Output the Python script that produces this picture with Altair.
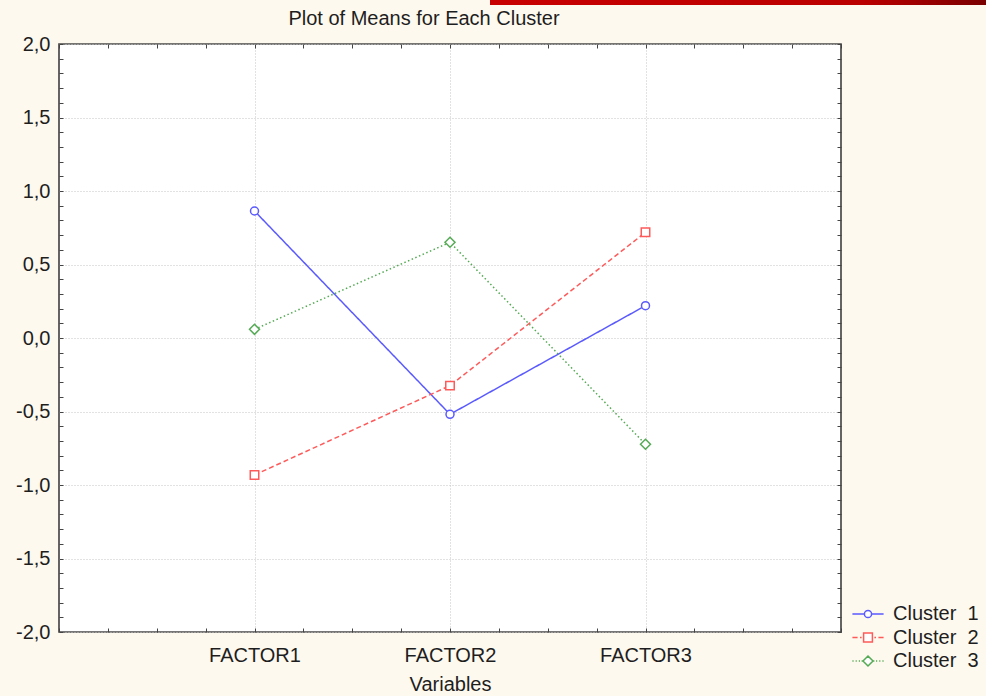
import json
import altair as alt
import pandas as pd

# ---------------- data ----------------
factors = ["FACTOR1", "FACTOR2", "FACTOR3"]
series = ["Cluster\u00a0\u00a01", "Cluster\u00a0\u00a02", "Cluster\u00a0\u00a03"]
cluster1 = [0.864, -0.519, 0.220]
cluster2 = [-0.932, -0.324, 0.719]
cluster3 = [0.059, 0.651, -0.723]
y_major = [-2.0, -1.5, -1.0, -0.5, 0.0, 0.5, 1.0, 1.5, 2.0]
y_minor = [round(-2.0 + 0.1 * i, 1) for i in range(41)]
x_minor = [0.25 * i for i in range(17)]

# ---------------- styles ----------------
colors = ["#5a5aff", "#ff5a5a", "#55aa55"]
dashes = [[1, 0], [5, 3], [1.5, 2.5]]
marker_shapes = ["circle", "square", "diamond"]
marker_sizes = [64, 72, 100]
legend_paths = [
    "M-3.9,0L-0.9,0M0.9,0L3.9,0M-0.9,0A0.9,0.9,0,1,1,0.9,0A0.9,0.9,0,1,1,-0.9,0Z",
    "M-3.9,0L-2.6,0M-2.0,0L-1.6,0M-1.1,-1.1L1.1,-1.1L1.1,1.1L-1.1,1.1ZM1.6,0L2.0,0M2.6,0L3.9,0",
    "M-3.9,0L-3.6,0M-3.1,0L-2.8,0M-2.3,0L-2.0,0M-1.6,0L-1.35,0M0,-1.25L1.25,0L0,1.25L-1.25,0Z"
    "M1.35,0L1.6,0M2.0,0L2.3,0M2.8,0L3.1,0M3.6,0L3.9,0",
]

rows = []
for s, vals in zip(series, [cluster1, cluster2, cluster3]):
    for i, (f, v) in enumerate(zip(factors, vals)):
        rows.append({"series": s, "factor": f, "pos": i + 1, "value": v})
df = pd.DataFrame(rows)

W, H = 782, 588
FONT = "Liberation Sans"
TXT = "#1e1e1e"
TICK = "#444444"
GRID = "#c4c4c4"

xs = alt.Scale(domain=[0, 4], nice=False, zero=False)
ys = alt.Scale(domain=[-2, 2], nice=False, zero=False)

base = alt.Chart(df)

x_label_expr = f"{json.dumps(factors)}[datum.value - 1]"
y_label_expr = "replace(replace(format(datum.value, '.1f'), '.', ','), '\u2212', '-')"

main_x_axis = alt.Axis(
    orient="bottom", values=[1, 2, 3], labelExpr=x_label_expr,
    title="Variables", grid=True, gridColor=GRID, gridDash=[1, 2], gridWidth=1,
    ticks=False, domain=False, labelFont=FONT, labelFontSize=20, labelColor=TXT,
    labelPadding=13, titleFont=FONT, titleFontSize=20, titleFontWeight="normal",
    titleColor=TXT, titlePadding=9)
main_y_axis = alt.Axis(
    orient="left", values=y_major, labelExpr=y_label_expr, title=None,
    grid=True, gridColor=GRID, gridDash=[1, 2], gridWidth=1,
    ticks=False, domain=False, labelFont=FONT, labelFontSize=20,
    labelColor=TXT, labelPadding=9)

tick_axis = dict(labels=False, grid=False, domain=False, title=None,
                 tickColor=TICK, tickSize=4, tickWidth=1)

line_axes = [(main_x_axis, main_y_axis), (None, None), (None, None)]
point_axes = [
    (alt.Axis(orient="top", offset=-H, values=x_minor, **tick_axis),
     alt.Axis(orient="right", offset=-W, values=y_minor, **tick_axis)),
    (alt.Axis(orient="bottom", offset=-H, values=x_minor, **tick_axis),
     alt.Axis(orient="left", offset=-W, values=y_minor, **tick_axis)),
    (None, None),
]

layers = []
for s, col, dash, (ax_x, ax_y) in zip(series, colors, dashes, line_axes):
    layers.append(
        base.transform_filter(alt.datum.series == s)
        .mark_line(color=col, strokeDash=dash, strokeWidth=1.5)
        .encode(
            x=alt.X("pos:Q", scale=xs, axis=ax_x),
            y=alt.Y("value:Q", scale=ys, axis=ax_y),
        )
    )
for s, col, shp, sz, (ax_x, ax_y) in zip(series, colors, marker_shapes, marker_sizes, point_axes):
    layers.append(
        base.transform_filter(alt.datum.series == s)
        .mark_point(shape=shp, size=sz, filled=True, fill="white", stroke=col,
                    strokeWidth=1.5, opacity=1)
        .encode(
            x=alt.X("pos:Q", scale=xs, axis=ax_x),
            y=alt.Y("value:Q", scale=ys, axis=ax_y),
        )
    )

leg = dict(title=None, orient="none", legendX=799, legendY=560, padding=0,
           symbolSize=64, symbolStrokeWidth=1.5, symbolOpacity=1,
           symbolFillColor="white", labelFont=FONT, labelFontSize=20,
           labelColor=TXT, labelOffset=15, rowPadding=3.5, labelLimit=300)

legend_layer = base.mark_point(filled=True, fill="white", opacity=0).encode(
    x=alt.X("pos:Q", scale=xs, axis=None),
    y=alt.Y("value:Q", scale=ys, axis=None),
    stroke=alt.Stroke("series:N", scale=alt.Scale(domain=series, range=colors),
                      legend=alt.Legend(**leg)),
    shape=alt.Shape("series:N", scale=alt.Scale(domain=series, range=legend_paths),
                    legend=alt.Legend(**leg)),
)
layers.append(legend_layer)

bar = alt.Chart(alt.Data(values=[{}])).mark_rect(
    color=alt.LinearGradient(
        gradient="linear", x1=0, x2=1, y1=0, y2=0,
        stops=[alt.GradientStop(color="#c80000", offset=0),
               alt.GradientStop(color="#bb0000", offset=0.75),
               alt.GradientStop(color="#7a0000", offset=1)])
).encode(x=alt.value(431), x2=alt.value(927), y=alt.value(-44), y2=alt.value(-39))
layers.append(bar)

chart = (
    alt.layer(*layers)
    .resolve_axis(x="independent", y="independent")
    .properties(
        width=W, height=H,
        autosize=alt.AutoSizeParams(type="none"),
        padding={"left": 59, "top": 44, "right": 986 - 59 - W, "bottom": 696 - 44 - H},
        title=alt.TitleParams(
            "Plot of Means for Each Cluster", font=FONT, fontSize=20,
            fontWeight="normal", color=TXT, anchor="middle", frame="group",
            dx=-26, offset=-45, baseline="alphabetic"),
        background="#fef9ee",
    )
    .configure_view(stroke="#4a4a4a", strokeWidth=1.7, fill="white")
)

chart.save("out.html", embed_options={"renderer": "svg", "actions": False})
